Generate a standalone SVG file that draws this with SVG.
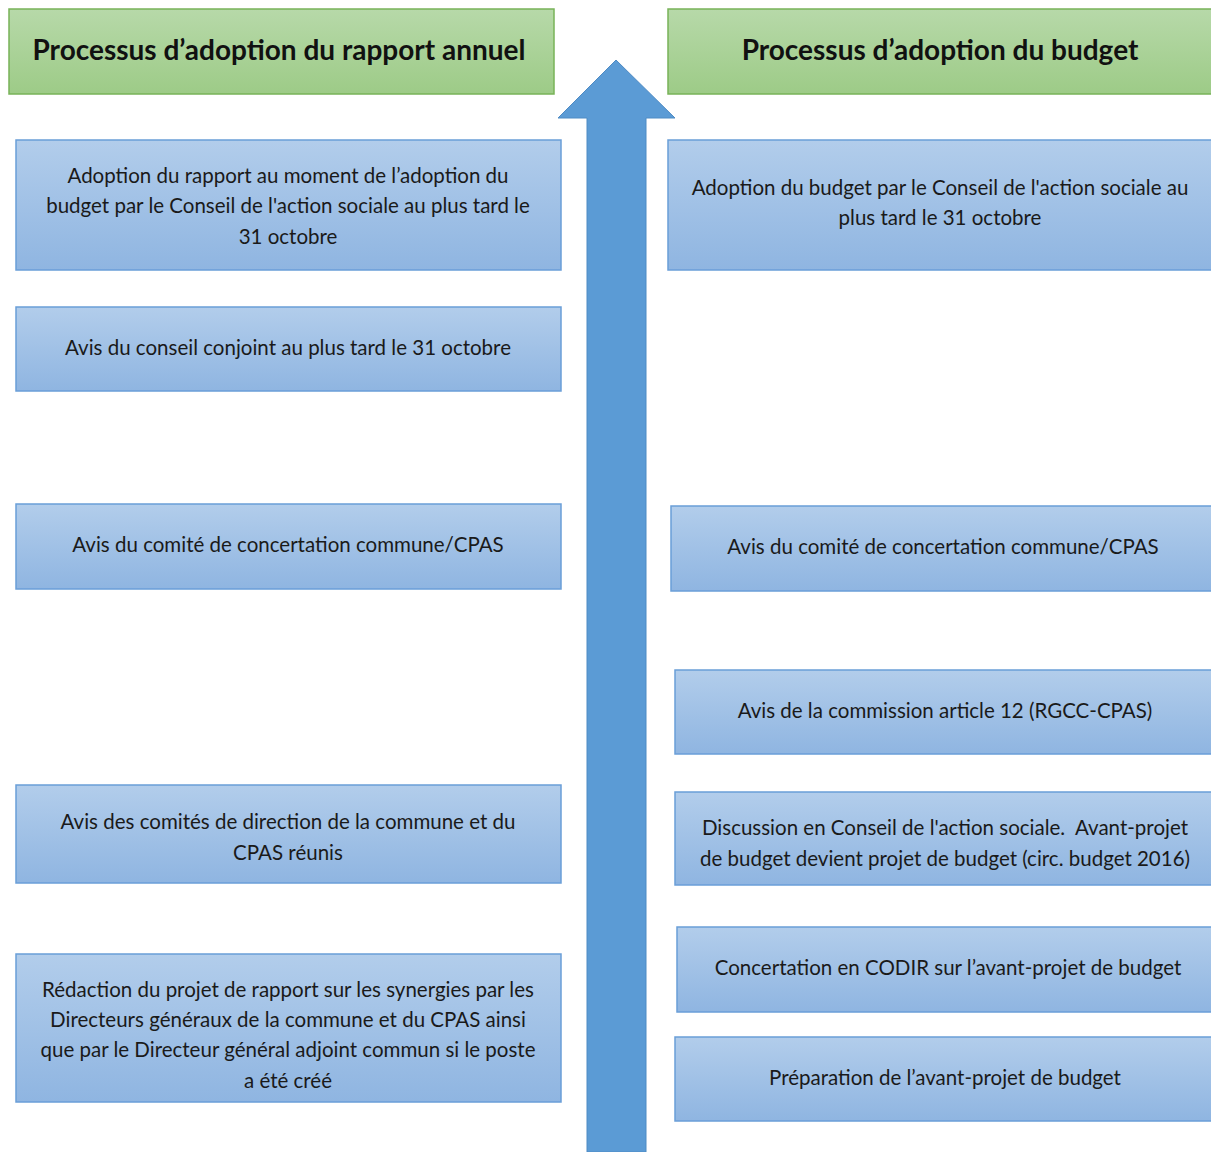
<svg xmlns="http://www.w3.org/2000/svg" width="1211" height="1152" viewBox="0 0 1211 1152">
<defs>
<linearGradient id="gG" x1="0" y1="0" x2="0" y2="1"><stop offset="0" stop-color="#b7d9a9"/><stop offset="1" stop-color="#9dcb87"/></linearGradient>
<linearGradient id="bG" x1="0" y1="0" x2="0" y2="1"><stop offset="0" stop-color="#b2cdeb"/><stop offset="1" stop-color="#8fb5e1"/></linearGradient>
<style>
.hdr{fill:url(#gG);stroke:#78b358;stroke-width:1.5}
.box{fill:url(#bG);stroke:#6a9ed8;stroke-width:1.5}
.ht{font-family:Lato,"Open Sans",sans-serif;font-weight:bold;font-size:28px;fill:#111;text-anchor:middle}
.t{font-family:Lato,"Open Sans",sans-serif;font-size:20.5px;fill:#1a1a1a;text-anchor:middle}
</style>
</defs>
<rect width="1211" height="1152" fill="#fff"/>
<g id="connectors">
<path d="M587 1152 V118 H558 L616 60 L675 118 H646 V1152 Z" fill="#5b9bd5" stroke="#4f8bc4" stroke-width="1"/>
</g>
<g id="hdr-left"><rect class="hdr" x="9" y="9" width="545" height="85"/><text class="ht" x="279" y="60">Processus d’adoption du rapport annuel</text></g>
<g id="hdr-right"><rect class="hdr" x="668" y="9" width="548" height="85"/><text class="ht" x="940" y="60">Processus d’adoption du budget</text></g>

<g id="l1"><rect class="box" x="16" y="140" width="545" height="130"/><text class="t" x="288" y="183">Adoption du rapport au moment de l’adoption du</text><text class="t" x="288" y="213">budget par le Conseil de l'action sociale au plus tard le</text><text class="t" x="288" y="244">31 octobre</text></g>
<g id="l2"><rect class="box" x="16" y="307" width="545" height="84"/><text class="t" x="288" y="355">Avis du conseil conjoint au plus tard le 31 octobre</text></g>
<g id="l3"><rect class="box" x="16" y="504" width="545" height="85"/><text class="t" x="288" y="552">Avis du comité de concertation commune/CPAS</text></g>
<g id="l4"><rect class="box" x="16" y="785" width="545" height="98"/><text class="t" x="288" y="829">Avis des comités de direction de la commune et du</text><text class="t" x="288" y="860">CPAS réunis</text></g>
<g id="l5"><rect class="box" x="16" y="954" width="545" height="148"/><text class="t" x="288" y="997">Rédaction du projet de rapport sur les synergies par les</text><text class="t" x="288" y="1027">Directeurs généraux de la commune et du CPAS ainsi</text><text class="t" x="288" y="1057">que par le Directeur général adjoint commun si le poste</text><text class="t" x="288" y="1088">a été créé</text></g>

<g id="r1"><rect class="box" x="668" y="140" width="548" height="130"/><text class="t" x="940" y="195">Adoption du budget par le Conseil de l'action sociale au</text><text class="t" x="940" y="225">plus tard le 31 octobre</text></g>
<g id="r2"><rect class="box" x="671" y="506" width="545" height="85"/><text class="t" x="943" y="554">Avis du comité de concertation commune/CPAS</text></g>
<g id="r3"><rect class="box" x="675" y="670" width="541" height="84"/><text class="t" x="945" y="718">Avis de la commission article 12 (RGCC-CPAS)</text></g>
<g id="r4"><rect class="box" x="675" y="792" width="541" height="93"/><text class="t" x="945" y="835">Discussion en Conseil de l'action sociale.&#160; Avant-projet</text><text class="t" x="945" y="866">de budget devient projet de budget (circ. budget 2016)</text></g>
<g id="r5"><rect class="box" x="677" y="927" width="539" height="85"/><text class="t" x="948" y="975">Concertation en CODIR sur l’avant-projet de budget</text></g>
<g id="r6"><rect class="box" x="675" y="1037" width="541" height="84"/><text class="t" x="945" y="1085">Préparation de l’avant-projet de budget</text></g>
</svg>
